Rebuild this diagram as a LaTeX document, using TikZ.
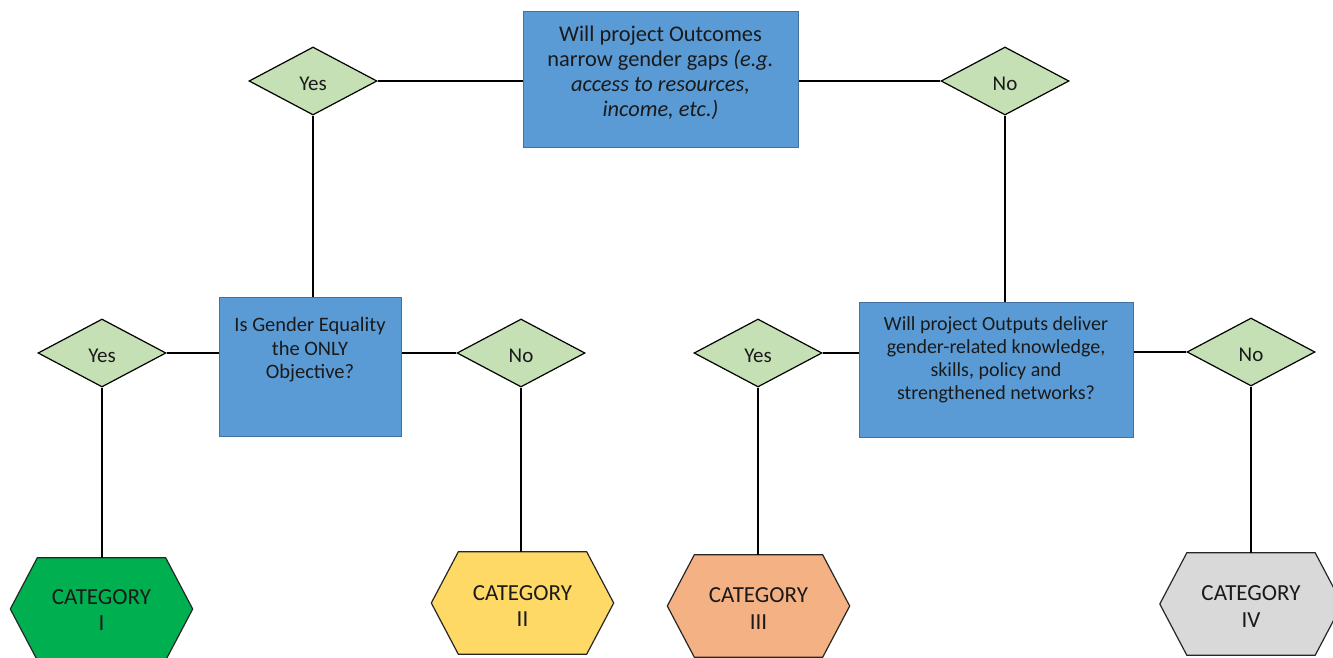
\documentclass[tikz,border=0pt]{standalone}
\usepackage{fontspec}
\setmainfont{Carlito}
\usetikzlibrary{shapes.geometric,calc,backgrounds}
\definecolor{boxblue}{HTML}{5B9BD5}
\definecolor{boxedge}{HTML}{41719C}
\definecolor{dgreen}{HTML}{C5E0B4}
\definecolor{catone}{HTML}{00B050}
\definecolor{cattwo}{HTML}{FFD966}
\definecolor{catthree}{HTML}{F4B183}
\definecolor{catfour}{HTML}{D9D9D9}
\definecolor{ink}{HTML}{1A1A1A}
\newcommand\dtext[1]{\raisebox{-9.5pt}[0pt][0pt]{#1}}
\tikzset{
  qbox/.style={draw=boxedge, line width=1pt, fill=boxblue, inner sep=0pt},
  qtext/.style={anchor=north, align=center, inner sep=0pt, text=ink},
  dec/.style={diamond, draw=black, line width=1.2pt, fill=dgreen, inner sep=0pt, text=ink,
    minimum width=128pt, minimum height=68pt, font=\fontsize{21}{24}\selectfont},
  hexframe/.style={inner sep=0pt, minimum width=182pt, minimum height=102pt},
  hextext/.style={inner sep=0pt, align=center, text=ink, font=\fontsize{23}{26.5}\selectfont},
  hexedge/.style={draw=black!85, line width=1.2pt},
  link/.style={draw=black, line width=1.5pt}
}
\newcommand\hexdraw[2]{\draw[hexedge, fill=#2] (#1.west) -- ($(#1.north west)+(27,0)$) -- ($(#1.north east)+(-27,0)$) -- (#1.east) -- ($(#1.south east)+(-27,0)$) -- ($(#1.south west)+(27,0)$) -- cycle;}
\begin{document}
\begin{tikzpicture}[x=1pt,y=-1pt]
\useasboundingbox (0,0) rectangle (1333,658);
\clip (0,0) rectangle (1333,658);
% question boxes
\node[qbox, minimum width=275pt, minimum height=136pt] (tbox) at (660.5,80) {};
\node[qtext, font=\fontsize{22.4}{25.2}\selectfont] (ttext) at (660.5,25.5) {Will project Outcomes\\narrow gender gaps \textit{(e.g.}\\\textit{access to resources,}\\\textit{income, etc.)}};
\node[qbox, minimum width=182pt, minimum height=139pt] (lbox) at (310,366.5) {};
\node[qtext, font=\fontsize{20.5}{23.2}\selectfont] (ltext) at (310,317.5) {Is Gender Equality\\the ONLY\\Objective?};
\node[qbox, minimum width=274pt, minimum height=135pt] (rbox) at (996,369.5) {};
\node[qtext, font=\fontsize{20}{23}\selectfont] (rtext) at (996,316) {Will project Outputs deliver\\gender-related knowledge,\\skills, policy and\\strengthened networks?};
% decisions
\node[dec] (yes1) at (313,81) {\dtext{Yes}};
\node[dec] (no1) at (1005,81) {\dtext{No}};
\node[dec] (yes2) at (102,353) {\dtext{Yes}};
\node[dec] (no2) at (521,353) {\dtext{No}};
\node[dec] (yes3) at (758,353) {\dtext{Yes}};
\node[dec] (no3) at (1251,352) {\dtext{No}};
% categories
\node[hexframe] (cat1) at (101.5,609) {};
\node[hexframe] (cat2) at (522.5,603) {};
\node[hexframe] (cat3) at (758.5,606) {};
\node[hexframe] (cat4) at (1251,604) {};
\node[hextext] (cat1t) at (101.5,610) {CATEGORY\\I};
\node[hextext] (cat2t) at (522.5,606) {CATEGORY\\II};
\node[hextext] (cat3t) at (758.5,608.5) {CATEGORY\\III};
\node[hextext] (cat4t) at (1251,606.5) {CATEGORY\\IV};
\begin{scope}[on background layer]
\hexdraw{cat1}{catone}
\hexdraw{cat2}{cattwo}
\hexdraw{cat3}{catthree}
\hexdraw{cat4}{catfour}
% connectors
\draw[link] (yes1.east) -- (yes1.east -| tbox.west);
\draw[link] (tbox.east |- no1.west) -- (no1.west);
\draw[link] (yes1.south) -- (yes1.south |- lbox.north);
\draw[link] (no1.south) -- (no1.south |- rbox.north);
\draw[link] (yes2.east) -- (yes2.east -| lbox.west);
\draw[link] (lbox.east |- no2.west) -- (no2.west);
\draw[link] (yes3.east) -- (yes3.east -| rbox.west);
\draw[link] (rbox.east |- no3.west) -- (no3.west);
\draw[link] (yes2.south) -- (yes2.south |- cat1.north);
\draw[link] (no2.south) -- (no2.south |- cat2.north);
\draw[link] (yes3.south) -- (yes3.south |- cat3.north);
\draw[link] (no3.south) -- (no3.south |- cat4.north);
\end{scope}
\end{tikzpicture}
\end{document}
